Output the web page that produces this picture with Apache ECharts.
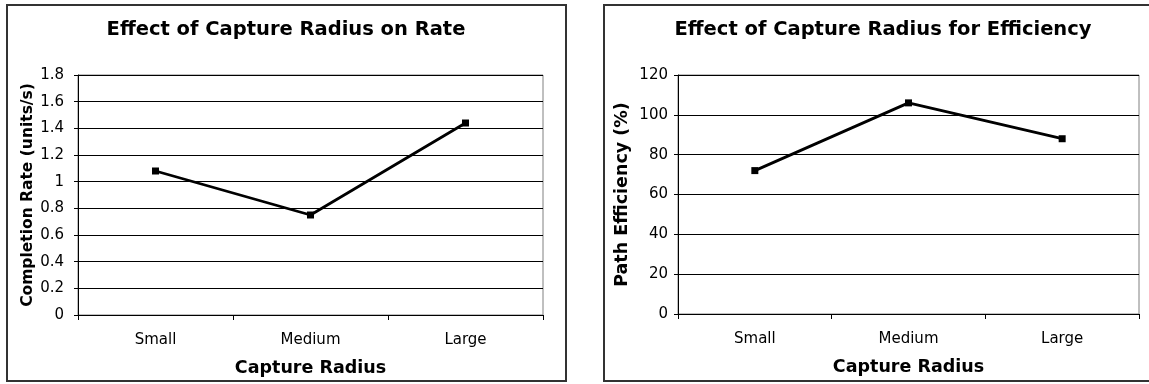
<!DOCTYPE html>
<html>
<head>
<meta charset="utf-8">
<script src="https://cdn.jsdelivr.net/npm/echarts@6/dist/echarts.min.js"></script>
<style>
  html, body { margin: 0; padding: 0; background: #fff; }
  #chart { width: 1149px; height: 384px; }
</style>
</head>
<body>
<div id="chart"></div>
<script>
// ---- data ----
const categories = ['Small', 'Medium', 'Large'];
const rateValues = [1.08, 0.75, 1.44];
const efficiencyValues = [72, 106, 88];
const rateTicks = [0, 0.2, 0.4, 0.6, 0.8, 1, 1.2, 1.4, 1.6, 1.8];
const efficiencyTicks = [0, 20, 40, 60, 80, 100, 120];
const titles = ['Effect of Capture Radius on Rate', 'Effect of Capture Radius for Efficiency'];
const xAxisName = 'Capture Radius';
const yAxisNames = ['Completion Rate (units/s)', 'Path Efficiency (%)'];

// ---- chart ----
const FONT = '"DejaVu Sans", Verdana, sans-serif';
const chart = echarts.init(document.getElementById('chart'), null, { renderer: 'canvas' });

function yAxisFor(ticks, name, gap, nameSize, labelMargin, gridIndex) {
  return {
    type: 'value',
    gridIndex: gridIndex,
    min: ticks[0],
    max: ticks[ticks.length - 1],
    interval: ticks[1] - ticks[0],
    name: name,
    nameLocation: 'middle',
    nameGap: gap,
    nameTextStyle: { fontFamily: FONT, fontWeight: 'bold', fontSize: nameSize, color: '#000' },
    axisLine: { show: true, lineStyle: { color: '#000', width: 1 } },
    axisTick: { show: true, length: 4, lineStyle: { color: '#000' } },
    axisLabel: { fontFamily: FONT, fontSize: 15, color: '#000', margin: labelMargin },
    splitLine: { show: true, lineStyle: { color: '#000', width: 1 } }
  };
}

function xAxisFor(gridIndex) {
  return {
    type: 'category',
    gridIndex: gridIndex,
    data: categories,
    boundaryGap: true,
    name: xAxisName,
    nameLocation: 'middle',
    nameGap: 44,
    nameTextStyle: { fontFamily: FONT, fontWeight: 'bold', fontSize: 17.5, color: '#000' },
    axisLine: { show: true, lineStyle: { color: '#000', width: 1 } },
    axisTick: { show: true, length: 5, alignWithLabel: false, lineStyle: { color: '#000' } },
    axisLabel: { fontFamily: FONT, fontSize: 15, color: '#000', margin: 18 },
    splitLine: { show: false }
  };
}

function lineSeries(values, idx) {
  return {
    type: 'line',
    xAxisIndex: idx,
    yAxisIndex: idx,
    data: values,
    symbol: 'rect',
    symbolSize: 7,
    lineStyle: { color: '#000', width: 2.8 },
    itemStyle: { color: '#000' },
    animation: false
  };
}

const option = {
  backgroundColor: '#fff',
  animation: false,
  title: [
    { text: titles[0], left: 286, top: 20, textAlign: 'center', padding: 0,
      textStyle: { fontFamily: FONT, fontWeight: 'bold', fontSize: 19.5, color: '#000' } },
    { text: titles[1], left: 883, top: 20, textAlign: 'center', padding: 0,
      textStyle: { fontFamily: FONT, fontWeight: 'bold', fontSize: 19.5, color: '#000' } }
  ],
  graphic: [
    { type: 'rect', shape: { x: 7, y: 5, width: 559, height: 376 },
      style: { fill: 'none', stroke: '#333', lineWidth: 2 }, silent: true },
    { type: 'rect', shape: { x: 604, y: 5, width: 560, height: 376 },
      style: { fill: 'none', stroke: '#333', lineWidth: 2 }, silent: true }
  ],
  grid: [
    { left: 78, top: 75, width: 465, height: 240, show: true, borderColor: '#808080', borderWidth: 1, containLabel: false },
    { left: 678, top: 75, width: 461, height: 239, show: true, borderColor: '#808080', borderWidth: 1, containLabel: false }
  ],
  xAxis: [xAxisFor(0), xAxisFor(1)],
  yAxis: [
    yAxisFor(rateTicks, yAxisNames[0], 42, 15.5, 14, 0),
    yAxisFor(efficiencyTicks, yAxisNames[1], 47, 17.5, 10, 1)
  ],
  series: [lineSeries(rateValues, 0), lineSeries(efficiencyValues, 1)]
};
chart.setOption(option);
</script>
</body>
</html>
